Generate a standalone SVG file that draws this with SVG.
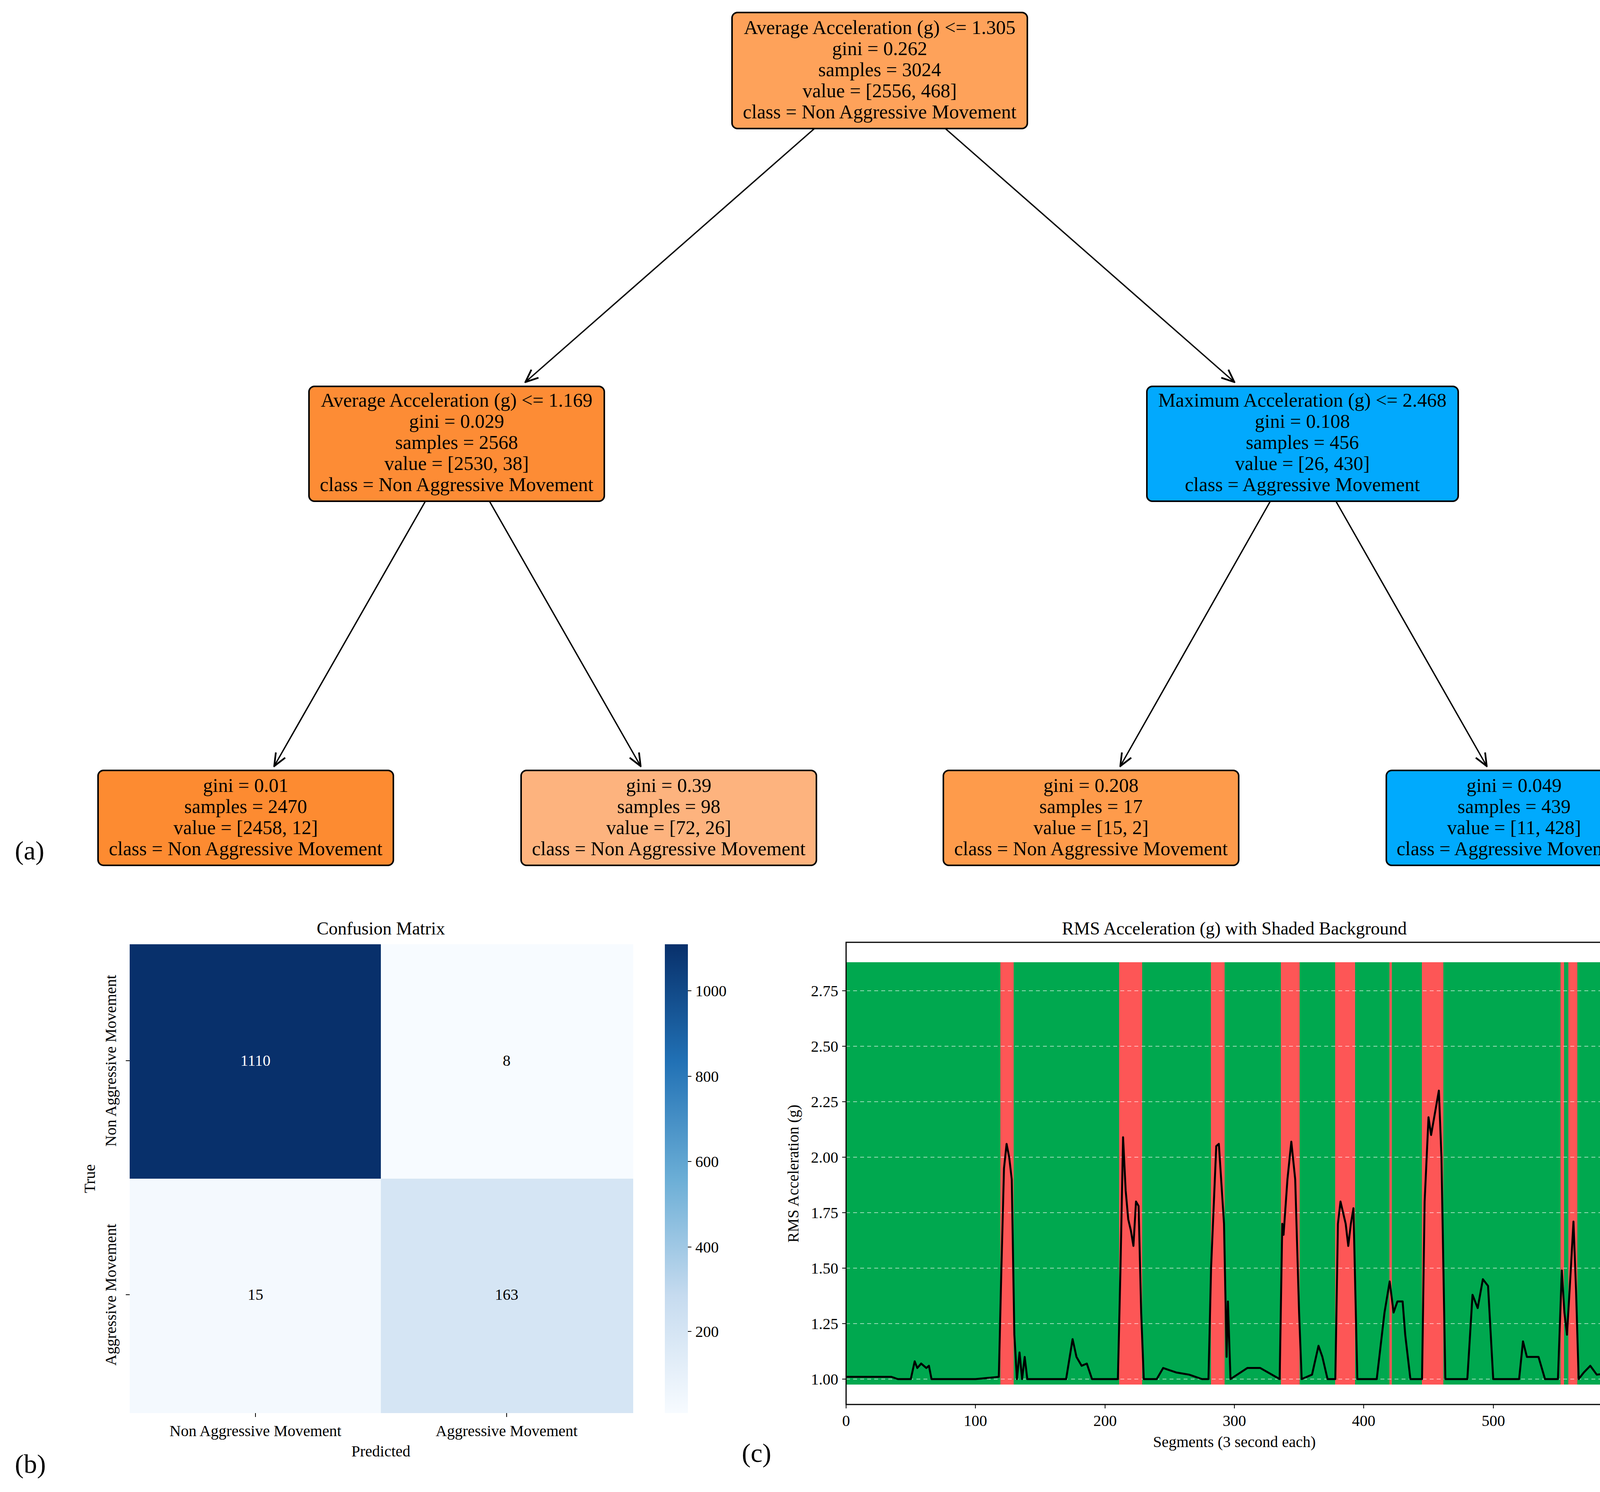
<svg xmlns="http://www.w3.org/2000/svg" width="4224" height="3819" viewBox="0 0 4224 3819">
<defs>
<style>
text{font-family:"Liberation Serif","Times New Roman",serif;fill:#000}
.n{font-size:50px;text-anchor:middle}
.box{stroke:#000;stroke-width:4}
.e{stroke:#000;stroke-width:3.5;fill:none;marker-end:url(#ah)}
.t{font-size:40px}
.lab{font-size:68px}
.grid{stroke:#fff;stroke-opacity:0.6;stroke-width:2;stroke-dasharray:10 8;fill:none}
</style>
<marker id="ah" markerWidth="40" markerHeight="40" refX="0" refY="0" viewBox="-30 -15 32 30" orient="auto" markerUnits="userSpaceOnUse">
<path d="M-26,-11 L0,0 L-26,11" fill="none" stroke="#000" stroke-width="3.5"/>
</marker>
<linearGradient id="cb" x1="0" y1="1" x2="0" y2="0">
<stop offset="0" stop-color="#f7fbff"/><stop offset="0.25" stop-color="#c6dbef"/><stop offset="0.5" stop-color="#6baed6"/><stop offset="0.75" stop-color="#2171b5"/><stop offset="1" stop-color="#08306b"/>
</linearGradient>
</defs>
<rect width="4224" height="3819" fill="#fff"/>
<g id="connectors">
<line class="e" x1="2085" y1="329" x2="1345" y2="978"/>
<line class="e" x1="2420" y1="329" x2="3160" y2="978"/>
<line class="e" x1="1089" y1="1283" x2="702" y2="1961"/>
<line class="e" x1="1253" y1="1283" x2="1640" y2="1961"/>
<line class="e" x1="3252" y1="1283" x2="2868" y2="1961"/>
<line class="e" x1="3420" y1="1283" x2="3806" y2="1961"/>
</g>
<g id="root">
<rect class="box" x="1874" y="32" width="756" height="297" rx="14" fill="#fea25a"/>
<text class="n" x="2252" y="87">Average Acceleration (g) &lt;= 1.305</text>
<text class="n" x="2252" y="141">gini = 0.262</text>
<text class="n" x="2252" y="195">samples = 3024</text>
<text class="n" x="2252" y="249">value = [2556, 468]</text>
<text class="n" x="2252" y="303">class = Non Aggressive Movement</text>
</g>
<g id="left">
<rect class="box" x="791" y="989" width="756" height="294" rx="14" fill="#fd8c35"/>
<text class="n" x="1169" y="1041">Average Acceleration (g) &lt;= 1.169</text>
<text class="n" x="1169" y="1095">gini = 0.029</text>
<text class="n" x="1169" y="1149">samples = 2568</text>
<text class="n" x="1169" y="1203">value = [2530, 38]</text>
<text class="n" x="1169" y="1257">class = Non Aggressive Movement</text>
</g>
<g id="right">
<rect class="box" x="2936" y="989" width="797" height="294" rx="14" fill="#02a9fd"/>
<text class="n" x="3334" y="1041">Maximum Acceleration (g) &lt;= 2.468</text>
<text class="n" x="3334" y="1095">gini = 0.108</text>
<text class="n" x="3334" y="1149">samples = 456</text>
<text class="n" x="3334" y="1203">value = [26, 430]</text>
<text class="n" x="3334" y="1257">class = Aggressive Movement</text>
</g>
<g id="leaf1">
<rect class="box" x="251" y="1972" width="756" height="243" rx="14" fill="#fd8b31"/>
<text class="n" x="629" y="2027">gini = 0.01</text>
<text class="n" x="629" y="2081">samples = 2470</text>
<text class="n" x="629" y="2135">value = [2458, 12]</text>
<text class="n" x="629" y="2189">class = Non Aggressive Movement</text>
</g>
<g id="leaf2">
<rect class="box" x="1334" y="1972" width="756" height="243" rx="14" fill="#fdb37e"/>
<text class="n" x="1712" y="2027">gini = 0.39</text>
<text class="n" x="1712" y="2081">samples = 98</text>
<text class="n" x="1712" y="2135">value = [72, 26]</text>
<text class="n" x="1712" y="2189">class = Non Aggressive Movement</text>
</g>
<g id="leaf3">
<rect class="box" x="2415" y="1972" width="756" height="243" rx="14" fill="#fe9b4b"/>
<text class="n" x="2793" y="2027">gini = 0.208</text>
<text class="n" x="2793" y="2081">samples = 17</text>
<text class="n" x="2793" y="2135">value = [15, 2]</text>
<text class="n" x="2793" y="2189">class = Non Aggressive Movement</text>
</g>
<g id="leaf4">
<rect class="box" x="3549" y="1972" width="654" height="243" rx="14" fill="#00aafd"/>
<text class="n" x="3876" y="2027">gini = 0.049</text>
<text class="n" x="3876" y="2081">samples = 439</text>
<text class="n" x="3876" y="2135">value = [11, 428]</text>
<text class="n" x="3876" y="2189">class = Aggressive Movement</text>
</g>
<text class="lab" x="38" y="2200">(a)</text>
<text class="lab" x="38" y="3770">(b)</text>
<text class="lab" x="1899" y="3742">(c)</text>
<g id="confusion">
<text x="975" y="2392" font-size="46" text-anchor="middle">Confusion Matrix</text>
<rect x="332" y="2417" width="643" height="600" fill="#08306b"/>
<rect x="975" y="2417" width="646" height="600" fill="#f7fbff"/>
<rect x="332" y="3017" width="643" height="600" fill="#f4f9fe"/>
<rect x="975" y="3017" width="646" height="600" fill="#d5e5f4"/>
<text class="t" x="654" y="2728" text-anchor="middle" fill="#fff" style="fill:#fff">1110</text>
<text class="t" x="1297" y="2728" text-anchor="middle">8</text>
<text class="t" x="654" y="3327" text-anchor="middle">15</text>
<text class="t" x="1297" y="3327" text-anchor="middle">163</text>
<g stroke="#000" stroke-width="2"><line x1="322" y1="2715" x2="332" y2="2715"/><line x1="322" y1="3314" x2="332" y2="3314"/><line x1="654" y1="3617" x2="654" y2="3627"/><line x1="1297" y1="3617" x2="1297" y2="3627"/></g>
<text class="t" x="654" y="3676" text-anchor="middle">Non Aggressive Movement</text>
<text class="t" x="1297" y="3676" text-anchor="middle">Aggressive Movement</text>
<text class="t" x="975" y="3728" text-anchor="middle">Predicted</text>
<text class="t" transform="translate(297,2715) rotate(-90)" text-anchor="middle">Non Aggressive Movement</text>
<text class="t" transform="translate(297,3314) rotate(-90)" text-anchor="middle">Aggressive Movement</text>
<text class="t" transform="translate(243,3017) rotate(-90)" text-anchor="middle">True</text>
<rect x="1702" y="2417" width="59" height="1200" fill="url(#cb)"/>
<g stroke="#000" stroke-width="2"><line x1="1761" y1="2536" x2="1770" y2="2536"/><line x1="1761" y1="2755" x2="1770" y2="2755"/><line x1="1761" y1="2973" x2="1770" y2="2973"/><line x1="1761" y1="3192" x2="1770" y2="3192"/><line x1="1761" y1="3408" x2="1770" y2="3408"/></g>
<text class="t" x="1780" y="2550">1000</text>
<text class="t" x="1780" y="2769">800</text>
<text class="t" x="1780" y="2987">600</text>
<text class="t" x="1780" y="3206">400</text>
<text class="t" x="1780" y="3422">200</text>
</g>
<g id="rmsplot">
<text x="3160" y="2392" font-size="46" text-anchor="middle">RMS Acceleration (g) with Shaded Background</text>
<rect x="2166" y="2463" width="1988" height="1081" fill="#00a84f"/>
<g fill="#fd5656">
<rect x="2561" y="2463" width="34" height="1081"/>
<rect x="2865" y="2463" width="59" height="1081"/>
<rect x="3100" y="2463" width="35" height="1081"/>
<rect x="3279" y="2463" width="48" height="1081"/>
<rect x="3418" y="2463" width="51" height="1081"/>
<rect x="3557" y="2463" width="6" height="1081"/>
<rect x="3640" y="2463" width="55" height="1081"/>
<rect x="3995" y="2463" width="9" height="1081"/>
<rect x="4015" y="2463" width="23" height="1081"/>
</g>
<g class="grid">
<line x1="2166" y1="3530" x2="4154" y2="3530"/><line x1="2166" y1="3388" x2="4154" y2="3388"/><line x1="2166" y1="3246" x2="4154" y2="3246"/><line x1="2166" y1="3104" x2="4154" y2="3104"/><line x1="2166" y1="2962" x2="4154" y2="2962"/><line x1="2166" y1="2820" x2="4154" y2="2820"/><line x1="2166" y1="2678" x2="4154" y2="2678"/><line x1="2166" y1="2536" x2="4154" y2="2536"/>
</g>
<g transform="translate(2166,3530) scale(3.3133,-568)">
<polyline vector-effect="non-scaling-stroke" fill="none" stroke="#000" stroke-width="5" stroke-linejoin="round" points="0,0.01 35,0.01 40,0 50,0 53,0.08 55,0.05 58,0.07 62,0.05 64,0.06 66,0 100,0 118,0.01 120,0.5 122,0.95 124,1.06 126,1 128,0.9 130,0.2 132,0 134,0.12 136,0 138,0.1 140,0 170,0 175,0.18 178,0.1 182,0.06 186,0.07 190,0 210,0 212,0.5 214,1.09 216,0.85 218,0.72 220,0.67 222,0.6 224,0.8 226,0.78 228,0.3 230,0 240,0 245,0.05 250,0.04 255,0.03 265,0.02 275,0 280,0 282,0.5 286,1.05 288,1.06 292,0.7 294,0.1 295,0.35 297,0 310,0.05 320,0.05 335,0 337,0.7 338,0.65 341,0.9 344,1.07 347,0.9 350,0.3 352,0 360,0.02 365,0.15 368,0.1 372,0 378,0 380,0.7 382,0.8 386,0.7 388,0.6 390,0.7 392,0.77 395,0 410,0 416,0.3 420,0.44 423,0.3 426,0.35 430,0.35 432,0.2 436,0 445,0 447,0.8 450,1.18 452,1.1 455,1.2 458,1.3 460,1 463,0 480,0 484,0.38 488,0.32 492,0.45 496,0.42 500,0 520,0 523,0.17 526,0.1 530,0.1 535,0.1 540,0 550,0 553,0.49 555,0.3 557,0.2 560,0.5 562,0.71 564,0.4 566,0 570,0.03 575,0.06 580,0.02 595,0.03 600,0.06"/>
</g>
<rect x="2166" y="2412" width="1988" height="1183" fill="none" stroke="#000" stroke-width="3"/>
<g stroke="#000" stroke-width="2">
<line x1="2156" y1="3530" x2="2166" y2="3530"/><line x1="2156" y1="3388" x2="2166" y2="3388"/><line x1="2156" y1="3246" x2="2166" y2="3246"/><line x1="2156" y1="3104" x2="2166" y2="3104"/><line x1="2156" y1="2962" x2="2166" y2="2962"/><line x1="2156" y1="2820" x2="2166" y2="2820"/><line x1="2156" y1="2678" x2="2166" y2="2678"/><line x1="2156" y1="2536" x2="2166" y2="2536"/>
<line x1="2166" y1="3595" x2="2166" y2="3605"/><line x1="2497" y1="3595" x2="2497" y2="3605"/><line x1="2829" y1="3595" x2="2829" y2="3605"/><line x1="3160" y1="3595" x2="3160" y2="3605"/><line x1="3491" y1="3595" x2="3491" y2="3605"/><line x1="3823" y1="3595" x2="3823" y2="3605"/><line x1="4154" y1="3595" x2="4154" y2="3605"/>
</g>
<g class="t" text-anchor="end">
<text x="2146" y="3544">1.00</text><text x="2146" y="3402">1.25</text><text x="2146" y="3260">1.50</text><text x="2146" y="3118">1.75</text><text x="2146" y="2976">2.00</text><text x="2146" y="2834">2.25</text><text x="2146" y="2692">2.50</text><text x="2146" y="2550">2.75</text>
</g>
<g class="t" text-anchor="middle">
<text x="2166" y="3650">0</text><text x="2497" y="3650">100</text><text x="2829" y="3650">200</text><text x="3160" y="3650">300</text><text x="3491" y="3650">400</text><text x="3823" y="3650">500</text><text x="4154" y="3650">600</text>
</g>
<text class="t" x="3160" y="3704" text-anchor="middle">Segments (3 second each)</text>
<text class="t" transform="translate(2044,3004) rotate(-90)" text-anchor="middle">RMS Acceleration (g)</text>
</g>
</svg>
